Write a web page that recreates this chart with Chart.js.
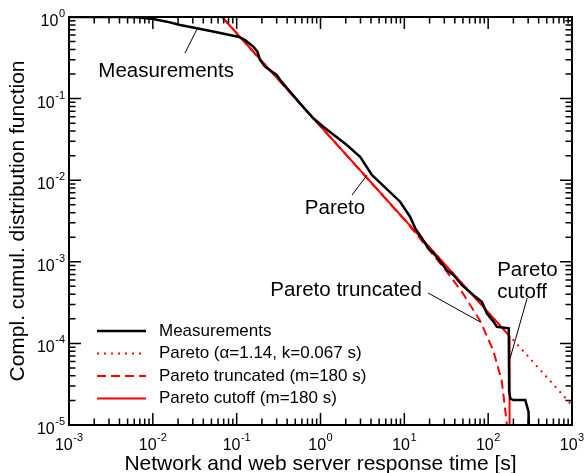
<!DOCTYPE html>
<html>
<head>
<meta charset="utf-8">
<script src="https://cdn.jsdelivr.net/npm/chart.js@4.4.1/dist/chart.umd.min.js"></script>
<style>
  html, body { margin: 0; padding: 0; background: #fff; }
</style>
</head>
<body>
<canvas id="ccdfChart" width="586" height="473"></canvas>
<script>
// Measured complementary CDF of response time
const measTime = [0.001, 0.004, 0.0065, 0.0101, 0.0147, 0.0211, 0.0334, 0.0578, 0.091, 0.105, 0.126, 0.158, 0.177, 0.19, 0.218, 0.30, 0.33, 0.57, 0.82, 1.08, 2.06, 2.97, 4.1, 8.9, 11.7, 13.5, 16.2, 19.4, 23.3, 32.1, 38.6, 48.5, 66.8, 84.1, 96.4, 115.6, 127, 176, 178, 184, 200, 277, 303, 310];
const measCcdf = [1.0, 0.998, 0.99, 0.945, 0.877, 0.80, 0.727, 0.65, 0.59, 0.574, 0.52, 0.433, 0.376, 0.297, 0.246, 0.195, 0.169, 0.0875, 0.0574, 0.0453, 0.027, 0.0194, 0.0116, 0.00545, 0.00357, 0.00257, 0.00194, 0.00146, 0.00121, 0.00079, 0.00069, 0.00052, 0.00039, 0.000324, 0.000234, 0.000185, 0.00016, 0.000153, 2.6e-5, 2.1e-5, 2.02e-5, 2.02e-5, 1.46e-5, 5e-6];

// Fitted models
const paretoTime = [0.067, 1000];
const paretoCcdf = [1, 1.75e-5];
const truncTime = [0.067, 10, 30, 50, 80, 115, 145, 166, 170];
const truncCcdf = [1, 3.3e-3, 8.3e-4, 4.1e-4, 1.9e-4, 8.2e-5, 3.5e-5, 1.1e-5, 5e-6];
const cutoffTime = [0.067, 180, 180];
const cutoffCcdf = [1, 1.23e-4, 1e-6];

// Axis decades (tick labels are 10^n)
const xDecades = [-3, -2, -1, 0, 1, 2, 3];
const yDecades = [-5, -4, -3, -2, -1, 0];

const FONT = '"Liberation Sans", Arial, Helvetica, sans-serif';

const toPoints = (xs, ys) => xs.map((v, i) => ({ x: v, y: ys[i] }));

// Text callouts, anchored in data coordinates
const notes = [
  { text: ['Measurements'], at: [0.0144, 0.218], align: 'center', line: [[0.0242, 0.362], [0.0337, 0.713]] },
  { text: ['Pareto'], at: [1.49, 0.00456], align: 'center', line: [[2.38, 0.00659], [3.6, 0.0116]] },
  { text: ['Pareto truncated'], at: [2.02, 4.51e-4], align: 'center', line: [[19.2, 4.15e-4], [80.4, 1.83e-4]] },
  { text: ['Pareto', 'cutoff'], at: [128, 7.9e-4], align: 'left', line: [[292, 3.6e-4], [183, 6.6e-5]] }
];

function powLabel(ctx, exp, x, baseY, align) {
  const b = '10', s = String(exp);
  ctx.font = '16px ' + FONT;
  const wb = ctx.measureText(b).width;
  ctx.font = '11px ' + FONT;
  const ws = ctx.measureText(s).width;
  const total = wb + ws + 0.5;
  const left = align === 'center' ? x - total / 2 : x - total;
  ctx.textAlign = 'left';
  ctx.textBaseline = 'alphabetic';
  ctx.font = '16px ' + FONT;
  ctx.fillText(b, left, baseY);
  ctx.font = '11px ' + FONT;
  ctx.fillText(s, left + wb + 0.5, baseY - 9);
}

const framePlugin = {
  id: 'frame',
  afterDatasetsDraw(chart) {
    const { ctx, chartArea: a, scales: { x, y } } = chart;
    ctx.save();
    ctx.strokeStyle = '#000';
    ctx.fillStyle = '#000';

    // inward ticks on all four sides
    ctx.lineWidth = 1.5;
    ctx.beginPath();
    xDecades.forEach(e => {
      for (let m = 1; m < 10; m++) {
        const v = m * Math.pow(10, e);
        if (v > x.max * 1.0001) break;
        const px = x.getPixelForValue(v);
        const len = m === 1 ? 12 : 6.5;
        ctx.moveTo(px, a.bottom); ctx.lineTo(px, a.bottom - len);
        ctx.moveTo(px, a.top); ctx.lineTo(px, a.top + len);
      }
    });
    yDecades.forEach(e => {
      for (let m = 1; m < 10; m++) {
        const v = m * Math.pow(10, e);
        if (v > y.max * 1.0001) break;
        const py = y.getPixelForValue(v);
        const len = m === 1 ? 12 : 6.5;
        ctx.moveTo(a.left, py); ctx.lineTo(a.left + len, py);
        ctx.moveTo(a.right, py); ctx.lineTo(a.right - len, py);
      }
    });
    ctx.stroke();

    ctx.lineWidth = 2;
    ctx.strokeRect(a.left, a.top, a.right - a.left, a.bottom - a.top);

    // tick labels
    xDecades.forEach(e => powLabel(ctx, e, x.getPixelForValue(Math.pow(10, e)), a.bottom + 25, 'center'));
    yDecades.forEach(e => powLabel(ctx, e, a.left - 4, y.getPixelForValue(Math.pow(10, e)) + 9, 'right'));

    // axis titles
    ctx.font = '21px ' + FONT;
    ctx.textAlign = 'center';
    ctx.textBaseline = 'alphabetic';
    ctx.fillText('Network and web server response time [s]', (a.left + a.right) / 2, a.bottom + 45);
    ctx.save();
    ctx.translate(24, (a.top + a.bottom) / 2);
    ctx.rotate(-Math.PI / 2);
    ctx.fillText('Compl. cumul. distribution function', 0, 0);
    ctx.restore();

    // callouts
    ctx.font = '20.5px ' + FONT;
    ctx.textBaseline = 'middle';
    ctx.lineWidth = 1;
    notes.forEach(n => {
      const tx = x.getPixelForValue(n.at[0]);
      const ty = y.getPixelForValue(n.at[1]);
      ctx.textAlign = n.align;
      n.text.forEach((t, i) => ctx.fillText(t, tx, ty + i * 22));
      ctx.beginPath();
      ctx.moveTo(x.getPixelForValue(n.line[0][0]), y.getPixelForValue(n.line[0][1]));
      ctx.lineTo(x.getPixelForValue(n.line[1][0]), y.getPixelForValue(n.line[1][1]));
      ctx.stroke();
    });

    // legend in lower left of the plot
    ctx.font = '17px ' + FONT;
    ctx.textAlign = 'left';
    chart.data.datasets.forEach((ds, i) => {
      const ly = a.bottom - 94 + i * 22.5;
      ctx.save();
      ctx.strokeStyle = ds.borderColor;
      ctx.lineWidth = ds.borderWidth;
      ctx.setLineDash(ds.borderDash || []);
      ctx.beginPath();
      ctx.moveTo(a.left + 28, ly);
      ctx.lineTo(a.left + 77, ly);
      ctx.stroke();
      ctx.restore();
      ctx.fillText(ds.label, a.left + 90, ly);
    });
    ctx.restore();
  }
};

const ctxCcdf = document.getElementById('ccdfChart').getContext('2d');
new Chart(ctxCcdf, {
  type: 'scatter',
  data: {
    datasets: [
      { label: 'Measurements', data: toPoints(measTime, measCcdf), borderColor: '#000', borderWidth: 2.5, order: 0 },
      { label: 'Pareto (\u03B1=1.14, k=0.067 s)', data: toPoints(paretoTime, paretoCcdf), borderColor: '#ff0000', borderWidth: 2, borderDash: [2, 5], order: 3 },
      { label: 'Pareto truncated (m=180 s)', data: toPoints(truncTime, truncCcdf), borderColor: '#ff0000', borderWidth: 2, borderDash: [9, 5], order: 2 },
      { label: 'Pareto cutoff (m=180 s)', data: toPoints(cutoffTime, cutoffCcdf), borderColor: '#ff0000', borderWidth: 2, order: 1 }
    ].map(ds => Object.assign({ showLine: true, pointRadius: 0, pointHoverRadius: 0, fill: false, tension: 0 }, ds))
  },
  options: {
    responsive: false,
    animation: false,
    devicePixelRatio: 1,
    layout: { padding: { left: 69, right: 14, top: 17, bottom: 48 } },
    scales: {
      x: { type: 'logarithmic', min: 1e-3, max: 1e3, display: false },
      y: { type: 'logarithmic', min: 1e-5, max: 1, display: false }
    },
    plugins: {
      legend: { display: false },
      tooltip: { enabled: false }
    }
  },
  plugins: [framePlugin]
});
</script>
</body>
</html>
